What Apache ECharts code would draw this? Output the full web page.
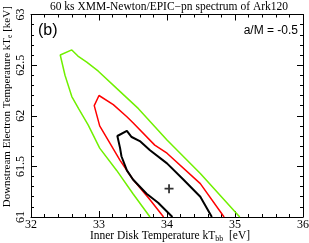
<!DOCTYPE html>
<html><head><meta charset="utf-8">
<script src="https://cdn.jsdelivr.net/npm/echarts@6/dist/echarts.min.js"></script>
<style>html,body{margin:0;padding:0;background:#fff}#c{width:309px;height:243px}</style>
</head><body><div id="c"></div>
<script>
const titleText = "60 ks XMM-Newton/EPIC\u2212pn spectrum of Ark120";
const xTicks = [32, 33, 34, 35, 36];
const yTicks = [61, 61.5, 62, 62.5, 63];
// 99% contour (green)
const greenX = [33.75, 33.50, 33.26, 33.01, 32.84, 32.70, 32.60, 32.50, 32.43, 32.60, 32.69, 32.82, 32.99, 33.26, 33.58, 34.00, 34.49, 35.07];
const greenY = [61.00, 61.23, 61.46, 61.68, 61.91, 62.07, 62.19, 62.40, 62.60, 62.65, 62.59, 62.53, 62.44, 62.27, 62.07, 61.76, 61.43, 61.00];
// 90% contour (red)
const redX = [33.95, 33.75, 33.50, 33.31, 33.16, 33.01, 32.93, 33.00, 33.21, 33.41, 33.50, 33.82, 34.00, 34.49, 34.84];
const redY = [61.00, 61.17, 61.37, 61.56, 61.73, 61.90, 62.10, 62.20, 62.11, 61.99, 61.93, 61.71, 61.63, 61.33, 61.00];
// 68% contour (black)
const blackX = [34.08, 33.87, 33.70, 33.50, 33.41, 33.33, 33.31, 33.27, 33.41, 33.48, 33.60, 33.75, 34.00, 34.24, 34.49, 34.66];
const blackY = [61.00, 61.14, 61.23, 61.37, 61.46, 61.60, 61.68, 61.80, 61.85, 61.79, 61.75, 61.66, 61.53, 61.37, 61.20, 61.00];
const bestFit = [34.03, 61.28];

const zip = (a, b) => a.map((v, i) => [v, b[i]]);
const serif = '"Liberation Serif","DejaVu Serif",serif';
const sans = '"Liberation Sans","DejaVu Sans",sans-serif';

const chart = echarts.init(document.getElementById('c'), null, {renderer: 'canvas'});
const axisCommon = {
  type: 'value',
  axisLine: {show: true, onZero: false, lineStyle: {color: '#000', width: 1}},
  axisTick: {show: true, inside: true, length: 6, lineStyle: {color: '#000', width: 1}},
  minorTick: {show: true, splitNumber: 5, length: 3, lineStyle: {color: '#000', width: 1}},
  splitLine: {show: false},
  minorSplitLine: {show: false}
};
chart.setOption({
  animation: false,
  backgroundColor: '#fff',
  title: {text: titleText, left: 169, top: 1, padding: 0, textAlign: 'center',
    textStyle: {fontFamily: serif, fontSize: 11.5, fontWeight: 'normal', color: '#000'}},
  grid: {left: 31, top: 14.5, right: 6, bottom: 26, containLabel: false, outerBoundsMode: 'none'},
  xAxis: [
    Object.assign({}, axisCommon, {
      min: xTicks[0], max: xTicks[xTicks.length - 1], interval: 1,
      position: 'bottom',
      axisLabel: {margin: 2, fontFamily: serif, fontSize: 12, color: '#000',
        formatter: v => xTicks.includes(v) ? String(v) : ''},
      name: '{n|Inner Disk Temperature kT}{s|bb}{n|  [eV]}',
      nameLocation: 'middle', nameGap: 12, nameMoveOverlap: false,
      nameTextStyle: {padding: [0, 0, 0, 6], rich: {
        n: {fontFamily: serif, fontSize: 11.5, color: '#000'},
        s: {fontFamily: serif, fontSize: 8, color: '#000', padding: [6, 0, 0, 0]}
      }}
    }),
    Object.assign({}, axisCommon, {
      min: xTicks[0], max: xTicks[xTicks.length - 1], interval: 1,
      position: 'top', axisLabel: {show: false}
    })
  ],
  yAxis: [
    Object.assign({}, axisCommon, {
      min: yTicks[0], max: yTicks[yTicks.length - 1], interval: 0.5,
      position: 'left',
      axisLabel: {rotate: 90, margin: 4, fontFamily: serif, fontSize: 12, color: '#000',
        formatter: v => String(v)},
      name: '{n|Downstream Electron Temperature kT}{s|e}{n| [keV]}',
      nameLocation: 'middle', nameRotate: 90, nameGap: 17, nameMoveOverlap: false,
      nameTextStyle: {padding: [0, 0, 0, 18], rich: {
        n: {fontFamily: serif, fontSize: 11, color: '#000'},
        s: {fontFamily: serif, fontSize: 7.5, color: '#000', padding: [6, 0, 0, 0]}
      }}
    }),
    Object.assign({}, axisCommon, {
      min: yTicks[0], max: yTicks[yTicks.length - 1], interval: 0.5,
      position: 'right', axisLabel: {show: false}
    })
  ],
  graphic: [
    {type: 'text', left: 38, top: 23, style: {text: '(b)', font: '16px ' + sans, fill: '#000'}},
    {type: 'text', right: 11, top: 25, style: {text: 'a/M = -0.5', font: '12px ' + sans, fill: '#000'}}
  ],
  series: [
    {type: 'line', data: zip(greenX, greenY), showSymbol: false, symbol: 'none',
      lineStyle: {color: '#70f000', width: 1.5}, clip: true},
    {type: 'line', data: zip(redX, redY), showSymbol: false, symbol: 'none',
      lineStyle: {color: '#ff0000', width: 1.5}, clip: true},
    {type: 'line', data: zip(blackX, blackY), showSymbol: false, symbol: 'none',
      lineStyle: {color: '#000000', width: 2}, clip: true},
    {type: 'scatter', data: [bestFit], symbol: 'path://M4,0h2v4h4v2h-4v4h-2v-4h-4v-2h4z',
      symbolSize: 9, itemStyle: {color: '#000'}}
  ]
});
</script></body></html>
